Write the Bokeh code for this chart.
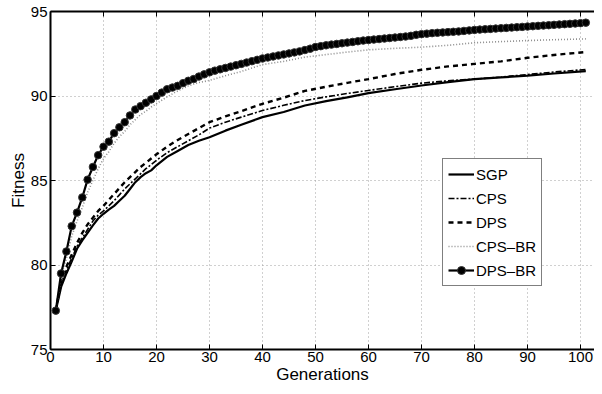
from bokeh.plotting import figure
from bokeh.models import Range1d, LinearAxis, FixedTicker, Legend, LegendItem
from bokeh.embed import file_html
from bokeh.resources import INLINE

FONT = "Liberation Sans"

# ---- data ----
gens_lines = [1, 2, 3, 4, 5, 6, 7, 8, 9, 10, 11, 12, 13, 14, 15, 16, 17, 18, 19, 20,
              22, 24, 26, 28, 30, 33, 36, 40, 44, 48, 52, 56, 60, 65, 70, 75, 80, 85, 90, 95, 101]
sgp = [77.3, 78.7, 79.5, 80.2, 80.96, 81.45, 81.9, 82.34, 82.75, 83.03, 83.28, 83.5, 83.8, 84.1,
       84.5, 84.9, 85.2, 85.43, 85.6, 85.9, 86.4, 86.75, 87.1, 87.35, 87.56, 87.95, 88.3, 88.75,
       89.05, 89.44, 89.7, 89.92, 90.17, 90.4, 90.62, 90.82, 91.0, 91.1, 91.21, 91.33, 91.47]
cps = [77.3, 78.9, 79.7, 80.4, 81.1, 81.6, 82.1, 82.6, 82.95, 83.2, 83.5, 83.8, 84.15, 84.5,
       84.8, 85.1, 85.4, 85.7, 85.95, 86.2, 86.65, 87.0, 87.35, 87.7, 88.1, 88.45, 88.75, 89.14,
       89.45, 89.73, 89.95, 90.15, 90.33, 90.55, 90.76, 90.9, 91.0, 91.12, 91.27, 91.42, 91.57]
dps = [77.3, 79.0, 79.9, 80.6, 81.3, 81.9, 82.4, 82.8, 83.2, 83.5, 83.85, 84.2, 84.55, 84.9,
       85.2, 85.5, 85.8, 86.05, 86.3, 86.55, 87.0, 87.4, 87.75, 88.1, 88.45, 88.8, 89.1, 89.54,
       89.9, 90.3, 90.55, 90.78, 91.0, 91.3, 91.55, 91.75, 91.9, 92.05, 92.26, 92.43, 92.6]
cps_br = [77.3, 79.3, 80.4, 81.7, 82.6, 83.4, 84.3, 85.0, 85.7, 86.3, 86.7, 87.2, 87.6, 87.9,
          88.3, 88.6, 88.9, 89.1, 89.35, 89.55, 89.95, 90.3, 90.6, 90.8, 90.92, 91.2, 91.45, 91.86,
          92.05, 92.3, 92.45, 92.6, 92.73, 92.82, 92.89, 93.0, 93.15, 93.22, 93.28, 93.33, 93.38]

gens_all = list(range(1, 102))
dps_br = [77.3, 79.5, 80.8, 82.3, 83.1, 84.0, 85.05, 85.8, 86.5, 87.0,
          87.3, 87.8, 88.15, 88.45, 88.85, 89.2, 89.4, 89.6, 89.8, 90.0,
          90.2, 90.4, 90.5, 90.6, 90.76, 90.9, 91.0, 91.15, 91.28, 91.4,
          91.5, 91.58, 91.66, 91.74, 91.82, 91.9, 91.98, 92.06, 92.14, 92.22,
          92.28, 92.34, 92.4, 92.46, 92.52, 92.58, 92.64, 92.72, 92.8, 92.9,
          92.95, 93.0, 93.04, 93.08, 93.12, 93.16, 93.2, 93.24, 93.28, 93.31,
          93.34, 93.37, 93.4, 93.43, 93.46, 93.49, 93.52, 93.56, 93.62, 93.66,
          93.69, 93.72, 93.74, 93.76, 93.78, 93.8, 93.82, 93.85, 93.88, 93.91,
          93.93, 93.95, 93.97, 93.99, 94.01, 94.03, 94.05, 94.07, 94.09, 94.11,
          94.13, 94.15, 94.17, 94.19, 94.21, 94.23, 94.25, 94.27, 94.29, 94.31, 94.34]

x_ticks = [0, 10, 20, 30, 40, 50, 60, 70, 80, 90, 100]
y_ticks = [75, 80, 85, 90, 95]
labels = ["SGP", "CPS", "DPS", "CPS\u2013BR", "DPS\u2013BR"]

p = figure(width=594, height=386, output_backend="svg", toolbar_location=None,
           x_range=Range1d(0, 102.64), y_range=Range1d(75, 95),
           min_border_left=50, min_border_right=0, min_border_top=11, min_border_bottom=37)
p.outline_line_color = None
p.background_fill_color = "white"

for ax in (p.xaxis[0], p.yaxis[0]):
    ax.major_tick_in = 5
    ax.major_tick_out = 0
    ax.minor_tick_in = 0
    ax.minor_tick_out = 0
    ax.axis_line_width = 2
    ax.axis_line_color = "black"
    ax.major_tick_line_color = "black"
    ax.major_label_text_font = FONT
    ax.major_label_text_font_size = "15px"
    ax.major_label_text_color = "black"
    ax.axis_label_text_font = FONT
    ax.axis_label_text_font_size = "17px"
    ax.axis_label_text_font_style = "normal"
    ax.axis_label_text_color = "black"
p.xaxis[0].ticker = FixedTicker(ticks=x_ticks)
p.yaxis[0].ticker = FixedTicker(ticks=y_ticks)
p.xaxis[0].axis_label = "Generations"
p.yaxis[0].axis_label = "Fitness"
p.xaxis[0].major_label_standoff = 2
p.xaxis[0].axis_label_standoff = 0
p.yaxis[0].major_label_standoff = 3
p.yaxis[0].axis_label_standoff = 0

top = LinearAxis(ticker=FixedTicker(ticks=x_ticks), major_label_text_font_size="0px",
                 major_tick_in=5, major_tick_out=0, minor_tick_in=0, minor_tick_out=0,
                 axis_line_width=2, axis_line_color="black", major_label_standoff=0)
top.major_label_overrides = {t: "" for t in x_ticks}
p.add_layout(top, "above")

for g in (p.xgrid[0], p.ygrid[0]):
    g.grid_line_color = "#a0a0a0"
    g.grid_line_dash = "1 3"
    g.grid_line_width = 1
p.xgrid[0].ticker = FixedTicker(ticks=x_ticks)
p.ygrid[0].ticker = FixedTicker(ticks=y_ticks)

r_sgp = p.line(gens_lines, sgp, line_color="black", line_width=2.2)
r_cps = p.line(gens_lines, cps, line_color="black", line_width=1.6, line_dash="6 2 2 2")
r_dps = p.line(gens_lines, dps, line_color="black", line_width=2.4, line_dash="5 4")
r_cpsbr = p.line(gens_lines, cps_br, line_color="#8c8c8c", line_width=1.6, line_dash="1 2")
r_dpsbr = p.line(gens_all, dps_br, line_color="black", line_width=2.2)
r_dpsbr_m = p.scatter(gens_all, dps_br, marker="circle", size=7.5, fill_color="black",
                      line_color="#333333", line_width=1)

legend = Legend(items=[
    LegendItem(label=labels[0], renderers=[r_sgp]),
    LegendItem(label=labels[1], renderers=[r_cps]),
    LegendItem(label=labels[2], renderers=[r_dps]),
    LegendItem(label=labels[3], renderers=[r_cpsbr]),
    LegendItem(label=labels[4], renderers=[r_dpsbr, r_dpsbr_m]),
], location=(392, 63))
legend.label_text_font = FONT
legend.label_text_font_size = "15px"
legend.label_text_color = "black"
legend.glyph_width = 26
legend.glyph_height = 20
legend.label_height = 20
legend.label_standoff = 2
legend.spacing = 4
legend.padding = 5
legend.margin = 0
legend.border_line_color = "black"
legend.border_line_width = 1.5
legend.background_fill_alpha = 1
p.add_layout(legend, "center")

open("out.html", "w").write(file_html(p, INLINE))
